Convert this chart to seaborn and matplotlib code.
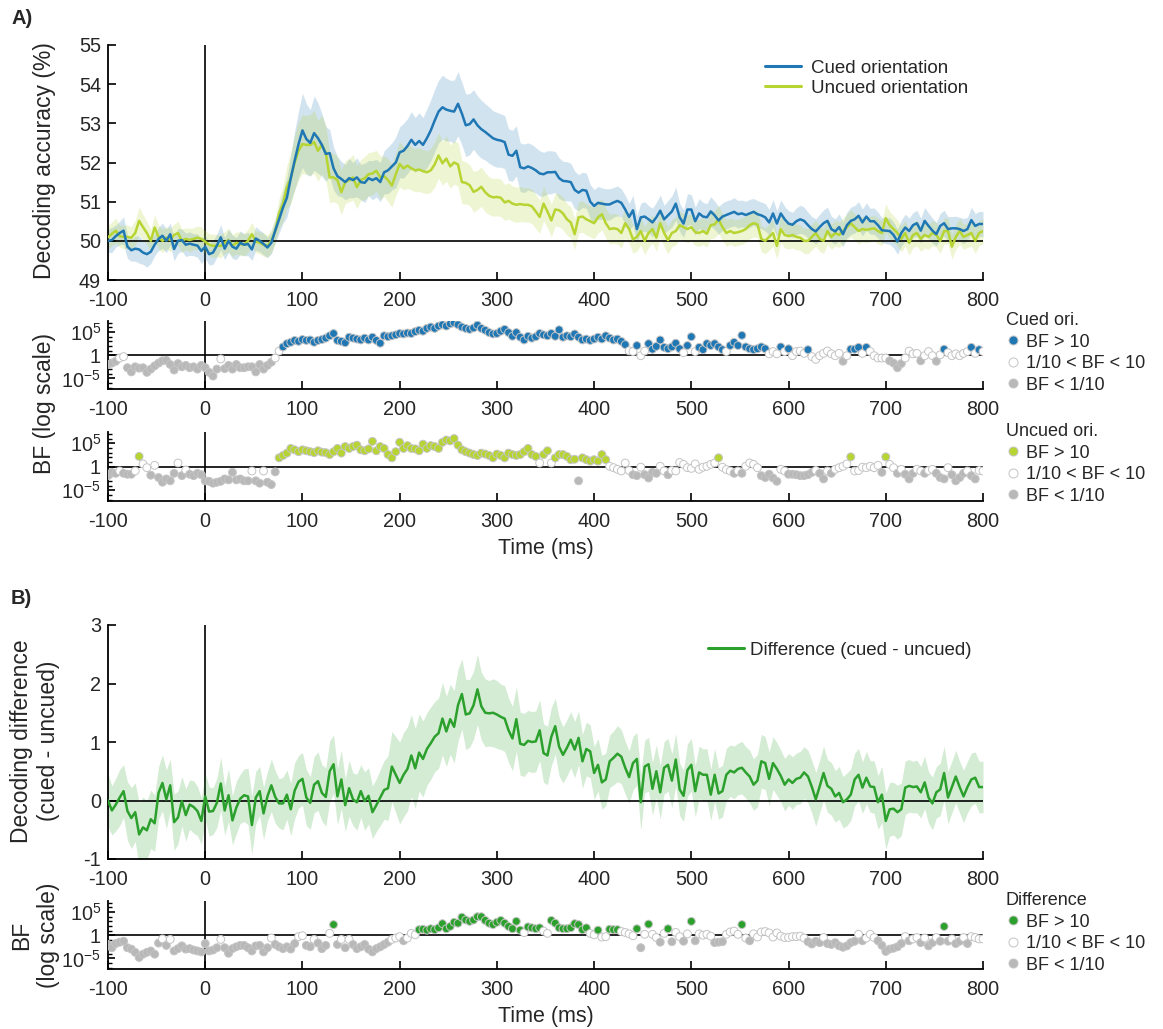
"""Decoding accuracy for cued / uncued orientation with Bayes factor strips underneath.
"""

import numpy as np
import pandas as pd
import seaborn as sns
import matplotlib.pyplot as plt
from matplotlib.lines import Line2D
from matplotlib.ticker import FixedLocator, NullFormatter

# 4 ms samples from -100 to 800 ms, one row of the lists = 100 ms
time_ms = np.arange(-100, 801, 4)

cued_acc = [
    50.00, 50.02, 50.12, 50.20, 50.26, 49.85, 49.76, 49.80, 49.78, 49.70, 49.66, 49.72, 49.90, 50.05, 50.13, 50.00, 50.17, 49.79, 50.00, 50.02, 49.90, 49.93, 49.90, 49.88, 49.74,
    49.85, 49.66, 49.70, 49.88, 50.09, 49.80, 50.00, 49.85, 49.80, 49.95, 49.90, 49.92, 49.78, 50.06, 50.00, 49.92, 49.83, 49.95, 50.26, 50.55, 50.85, 51.10, 51.60, 52.05, 52.47,
    52.82, 52.60, 52.50, 52.75, 52.62, 52.45, 52.22, 52.24, 51.85, 51.65, 51.58, 51.50, 51.60, 51.55, 51.62, 51.50, 51.48, 51.60, 51.55, 51.60, 51.50, 51.75, 51.80, 51.90, 52.00,
    52.26, 52.30, 52.42, 52.58, 52.45, 52.55, 52.45, 52.62, 52.82, 53.07, 53.30, 53.41, 53.35, 53.32, 53.30, 53.50, 53.25, 52.95, 52.98, 53.10, 52.95, 52.85, 52.78, 52.70, 52.62,
    52.58, 52.56, 52.52, 52.20, 52.17, 52.30, 51.88, 51.85, 51.90, 51.86, 51.80, 51.72, 51.70, 51.75, 51.75, 51.76, 51.60, 51.53, 51.52, 51.50, 51.30, 51.23, 51.30, 51.28, 51.00,
    50.89, 50.97, 50.95, 50.93, 50.93, 50.98, 51.02, 50.97, 50.80, 50.61, 50.78, 50.30, 50.60, 50.62, 50.55, 50.47, 50.60, 50.77, 50.55, 50.65, 50.75, 50.95, 50.60, 50.44, 50.80,
    50.80, 50.50, 50.70, 50.62, 50.60, 50.75, 50.65, 50.52, 50.62, 50.66, 50.70, 50.74, 50.68, 50.70, 50.66, 50.70, 50.74, 50.68, 50.65, 50.60, 50.47, 50.70, 50.44, 50.70, 50.55,
    50.44, 50.41, 50.50, 50.55, 50.51, 50.40, 50.30, 50.24, 50.35, 50.45, 50.51, 50.30, 50.24, 50.35, 50.17, 50.40, 50.51, 50.55, 50.64, 50.47, 50.62, 50.50, 50.50, 50.40, 50.27,
    50.26, 50.25, 50.15, 49.98, 50.20, 50.34, 50.25, 50.40, 50.45, 50.26, 50.51, 50.38, 50.26, 50.17, 50.38, 50.45, 50.30, 50.32, 50.32, 50.30, 50.25, 50.30, 50.53, 50.38, 50.43,
    50.43,
]
cued_sem = [
    0.30, 0.32, 0.28, 0.30, 0.35, 0.30, 0.28, 0.32, 0.35, 0.30, 0.33, 0.30, 0.28, 0.30, 0.32, 0.30, 0.28, 0.30, 0.32, 0.28, 0.30, 0.30, 0.28, 0.30, 0.32,
    0.30, 0.28, 0.30, 0.30, 0.32, 0.28, 0.30, 0.30, 0.28, 0.30, 0.28, 0.30, 0.28, 0.30, 0.28, 0.28, 0.26, 0.28, 0.30, 0.35, 0.40, 0.50, 0.60, 0.75, 0.85,
    0.95, 0.90, 0.85, 0.95, 0.90, 0.80, 0.70, 0.60, 0.55, 0.50, 0.45, 0.45, 0.50, 0.45, 0.50, 0.45, 0.50, 0.45, 0.50, 0.48, 0.50, 0.55, 0.60, 0.60, 0.65,
    0.65, 0.70, 0.70, 0.72, 0.70, 0.72, 0.70, 0.75, 0.78, 0.80, 0.80, 0.82, 0.80, 0.78, 0.80, 0.82, 0.80, 0.80, 0.78, 0.76, 0.75, 0.74, 0.72, 0.72, 0.70,
    0.70, 0.68, 0.68, 0.66, 0.65, 0.64, 0.62, 0.62, 0.60, 0.60, 0.58, 0.58, 0.56, 0.55, 0.55, 0.52, 0.52, 0.50, 0.50, 0.48, 0.48, 0.46, 0.45, 0.45, 0.44,
    0.42, 0.42, 0.40, 0.40, 0.40, 0.38, 0.38, 0.36, 0.36, 0.35, 0.38, 0.35, 0.36, 0.38, 0.35, 0.36, 0.38, 0.40, 0.36, 0.38, 0.40, 0.42, 0.36, 0.35, 0.40,
    0.38, 0.36, 0.38, 0.36, 0.35, 0.38, 0.36, 0.35, 0.35, 0.36, 0.35, 0.36, 0.35, 0.34, 0.35, 0.36, 0.34, 0.35, 0.34, 0.35, 0.33, 0.35, 0.33, 0.34, 0.33,
    0.33, 0.32, 0.34, 0.36, 0.35, 0.33, 0.32, 0.32, 0.33, 0.34, 0.35, 0.33, 0.32, 0.34, 0.32, 0.33, 0.35, 0.35, 0.36, 0.34, 0.35, 0.33, 0.34, 0.33, 0.32,
    0.33, 0.34, 0.33, 0.32, 0.33, 0.34, 0.33, 0.32, 0.33, 0.32, 0.34, 0.33, 0.32, 0.30, 0.32, 0.33, 0.32, 0.30, 0.31, 0.30, 0.32, 0.30, 0.33, 0.32, 0.32,
    0.32,
]
uncued_acc = [
    50.09, 50.18, 50.26, 50.12, 50.10, 50.10, 50.08, 50.20, 50.51, 50.35, 50.20, 50.00, 50.34, 50.10, 50.00, 50.08, 50.02, 50.15, 50.20, 50.00, 50.05, 50.02, 50.05, 50.08, 50.05,
    49.98, 49.90, 49.87, 49.88, 49.87, 49.95, 50.02, 49.87, 49.95, 49.92, 49.90, 50.00, 50.17, 49.98, 49.95, 49.90, 49.87, 50.00, 50.25, 50.70, 50.95, 51.37, 51.60, 52.00, 52.30,
    52.47, 52.45, 52.45, 52.52, 52.30, 52.45, 52.25, 51.62, 51.62, 51.55, 51.24, 51.50, 51.55, 51.62, 51.37, 51.55, 51.60, 51.70, 51.72, 51.79, 51.62, 51.65, 51.55, 51.41, 51.70,
    51.96, 51.85, 51.92, 51.85, 51.80, 51.82, 51.78, 51.75, 51.80, 51.95, 52.18, 51.98, 52.10, 51.90, 52.00, 51.95, 51.50, 51.48, 51.42, 51.25, 51.30, 51.38, 51.24, 51.15, 51.11,
    51.12, 51.10, 50.98, 51.02, 50.95, 50.92, 50.94, 50.92, 50.92, 50.88, 50.75, 50.61, 50.95, 50.75, 50.52, 50.80, 50.78, 50.70, 50.55, 50.47, 50.17, 50.60, 50.62, 50.55, 50.50,
    50.45, 50.60, 50.68, 50.45, 50.30, 50.32, 50.30, 50.20, 50.45, 50.30, 50.04, 50.10, 50.25, 50.00, 50.20, 50.30, 50.08, 50.45, 50.20, 50.02, 50.20, 50.25, 50.40, 50.35, 50.30,
    50.35, 50.22, 50.20, 50.25, 50.18, 50.40, 50.42, 50.55, 50.35, 50.20, 50.25, 50.20, 50.22, 50.25, 50.30, 50.40, 50.45, 50.42, 50.05, 50.00, 50.10, 50.20, 49.87, 50.30, 50.15,
    50.12, 50.15, 50.10, 50.08, 50.00, 50.00, 50.10, 50.20, 50.05, 50.00, 50.25, 50.10, 50.20, 50.15, 50.25, 50.35, 50.45, 50.35, 50.25, 50.30, 50.28, 50.30, 50.32, 50.25, 50.20,
    50.58, 50.40, 50.30, 50.20, 50.05, 50.20, 49.95, 50.15, 50.20, 50.05, 50.15, 50.10, 50.20, 50.15, 50.00, 50.25, 50.25, 49.85, 50.10, 50.25, 50.10, 50.15, 50.20, 50.00, 50.20,
    50.25,
]
uncued_sem = [
    0.30, 0.30, 0.32, 0.28, 0.30, 0.30, 0.28, 0.32, 0.35, 0.32, 0.30, 0.28, 0.32, 0.30, 0.30, 0.28, 0.30, 0.28, 0.30, 0.30, 0.28, 0.30, 0.28, 0.30, 0.30,
    0.28, 0.28, 0.30, 0.28, 0.30, 0.28, 0.30, 0.28, 0.28, 0.30, 0.28, 0.30, 0.30, 0.28, 0.28, 0.30, 0.28, 0.30, 0.32, 0.38, 0.45, 0.55, 0.65, 0.70, 0.75,
    0.75, 0.75, 0.78, 0.80, 0.78, 0.75, 0.70, 0.65, 0.62, 0.60, 0.58, 0.55, 0.55, 0.58, 0.55, 0.52, 0.55, 0.55, 0.55, 0.52, 0.55, 0.52, 0.55, 0.55, 0.55,
    0.58, 0.55, 0.58, 0.55, 0.55, 0.56, 0.55, 0.55, 0.56, 0.58, 0.58, 0.56, 0.58, 0.55, 0.55, 0.56, 0.55, 0.54, 0.52, 0.52, 0.50, 0.50, 0.50, 0.48, 0.48,
    0.48, 0.48, 0.46, 0.46, 0.45, 0.45, 0.45, 0.44, 0.44, 0.44, 0.44, 0.42, 0.44, 0.42, 0.42, 0.42, 0.42, 0.42, 0.40, 0.40, 0.40, 0.40, 0.40, 0.40, 0.40,
    0.40, 0.40, 0.40, 0.38, 0.38, 0.38, 0.38, 0.38, 0.38, 0.36, 0.36, 0.36, 0.36, 0.36, 0.36, 0.36, 0.35, 0.36, 0.35, 0.35, 0.35, 0.35, 0.35, 0.35, 0.35,
    0.35, 0.34, 0.34, 0.35, 0.34, 0.34, 0.35, 0.36, 0.34, 0.34, 0.34, 0.34, 0.33, 0.34, 0.34, 0.35, 0.35, 0.34, 0.33, 0.33, 0.34, 0.34, 0.33, 0.34, 0.33,
    0.33, 0.33, 0.33, 0.32, 0.32, 0.33, 0.33, 0.33, 0.32, 0.32, 0.33, 0.32, 0.33, 0.32, 0.33, 0.34, 0.35, 0.34, 0.33, 0.33, 0.33, 0.33, 0.33, 0.33, 0.32,
    0.36, 0.35, 0.34, 0.33, 0.33, 0.33, 0.32, 0.32, 0.33, 0.32, 0.33, 0.32, 0.32, 0.32, 0.32, 0.33, 0.33, 0.32, 0.32, 0.33, 0.32, 0.32, 0.33, 0.32, 0.32,
    0.32,
]
diff_acc = [
    0.00, -0.17, -0.07, 0.05, 0.16, -0.18, -0.30, -0.20, -0.58, -0.46, -0.51, -0.32, -0.39, 0.13, 0.30, 0.02, 0.26, -0.37, -0.29, -0.01, -0.25, -0.07, -0.11, -0.18, -0.35,
    0.07, -0.19, -0.18, -0.04, 0.29, -0.17, 0.09, -0.34, -0.12, 0.03, 0.09, 0.07, -0.42, 0.05, 0.16, -0.22, 0.07, 0.26, 0.06, -0.05, -0.05, 0.10, -0.15, 0.17, 0.32,
    0.37, 0.05, -0.04, 0.27, 0.33, 0.13, 0.06, 0.50, 0.62, 0.07, 0.36, -0.08, 0.21, 0.02, -0.03, 0.16, -0.01, 0.08, -0.20, -0.08, 0.05, 0.18, 0.21, 0.58, 0.44,
    0.30, 0.44, 0.54, 0.77, 0.55, 0.82, 0.71, 0.88, 0.98, 1.09, 1.15, 1.40, 1.18, 1.39, 1.26, 1.63, 1.82, 1.47, 1.49, 1.63, 1.90, 1.61, 1.50, 1.49, 1.50,
    1.47, 1.43, 1.40, 1.20, 1.06, 1.39, 0.97, 0.95, 1.02, 1.00, 1.01, 1.20, 0.81, 0.77, 1.09, 1.27, 0.92, 0.78, 0.90, 1.04, 0.87, 1.07, 0.67, 0.88, 0.84,
    0.47, 0.61, 0.31, 0.36, 0.67, 0.73, 0.80, 0.75, 0.56, 0.40, 0.64, 0.71, -0.03, 0.58, 0.62, 0.20, 0.50, 0.14, 0.56, 0.61, 0.34, 0.70, 0.19, 0.08, 0.52,
    0.61, 0.16, 0.48, 0.44, 0.44, 0.10, 0.44, 0.12, 0.16, 0.44, 0.51, 0.48, 0.54, 0.56, 0.48, 0.41, 0.27, 0.34, 0.67, 0.64, 0.37, 0.64, 0.54, 0.42, 0.27,
    0.36, 0.30, 0.37, 0.39, 0.48, 0.41, 0.23, 0.02, 0.24, 0.47, 0.25, 0.20, 0.07, 0.13, -0.03, 0.02, 0.10, 0.36, 0.44, 0.22, 0.39, 0.24, 0.23, -0.03, 0.10,
    -0.35, -0.15, -0.14, -0.20, -0.15, 0.22, 0.25, 0.23, 0.24, 0.14, 0.31, 0.05, -0.05, 0.14, 0.19, 0.47, 0.05, 0.23, 0.41, 0.23, 0.07, 0.23, 0.36, 0.39, 0.23,
    0.23,
]
diff_sem = [
    0.45, 0.42, 0.45, 0.48, 0.45, 0.50, 0.52, 0.50, 0.55, 0.52, 0.50, 0.50, 0.48, 0.45, 0.48, 0.50, 0.45, 0.48, 0.45, 0.42, 0.45, 0.42, 0.45, 0.42, 0.40,
    0.40, 0.42, 0.40, 0.42, 0.45, 0.42, 0.45, 0.42, 0.45, 0.42, 0.45, 0.48, 0.50, 0.45, 0.42, 0.45, 0.42, 0.45, 0.45, 0.42, 0.45, 0.42, 0.45, 0.48, 0.45,
    0.45, 0.48, 0.45, 0.48, 0.50, 0.48, 0.50, 0.52, 0.50, 0.48, 0.50, 0.45, 0.48, 0.45, 0.48, 0.45, 0.50, 0.48, 0.45, 0.45, 0.48, 0.50, 0.55, 0.60, 0.65,
    0.70, 0.72, 0.72, 0.70, 0.68, 0.66, 0.65, 0.62, 0.62, 0.60, 0.60, 0.62, 0.60, 0.60, 0.62, 0.62, 0.60, 0.60, 0.58, 0.58, 0.60, 0.58, 0.58, 0.56, 0.58,
    0.58, 0.56, 0.56, 0.55, 0.55, 0.55, 0.54, 0.54, 0.52, 0.52, 0.52, 0.52, 0.50, 0.50, 0.50, 0.48, 0.50, 0.48, 0.48, 0.48, 0.48, 0.46, 0.46, 0.46, 0.45,
    0.45, 0.45, 0.46, 0.45, 0.45, 0.46, 0.48, 0.46, 0.45, 0.45, 0.46, 0.45, 0.48, 0.45, 0.46, 0.45, 0.45, 0.46, 0.45, 0.45, 0.46, 0.45, 0.45, 0.44, 0.45,
    0.45, 0.44, 0.45, 0.44, 0.45, 0.44, 0.45, 0.44, 0.44, 0.45, 0.44, 0.45, 0.44, 0.45, 0.44, 0.45, 0.44, 0.45, 0.46, 0.45, 0.46, 0.45, 0.45, 0.44, 0.45,
    0.44, 0.45, 0.44, 0.45, 0.44, 0.45, 0.45, 0.46, 0.45, 0.46, 0.45, 0.45, 0.44, 0.45, 0.44, 0.45, 0.44, 0.45, 0.45, 0.44, 0.45, 0.44, 0.45, 0.46, 0.48,
    0.48, 0.46, 0.45, 0.46, 0.45, 0.46, 0.45, 0.44, 0.45, 0.44, 0.45, 0.44, 0.45, 0.44, 0.45, 0.46, 0.45, 0.44, 0.45, 0.44, 0.45, 0.44, 0.45, 0.44, 0.44,
    0.44,
]

# log10 Bayes factors
cued_logbf = [
    -2.0, -1.7, -1.3, -0.6, -0.3, -2.7, -3.6, -2.5, -2.8, -2.7, -3.7, -3.0, -2.3, -1.7, -1.2, -1.1, -2.0, -3.2, -1.8, -2.5, -2.2, -2.7, -2.5, -3.0, -2.2,
    -2.7, -3.7, -4.5, -3.0, -0.8, -2.9, -2.2, -3.0, -2.0, -2.7, -2.7, -2.5, -2.5, -3.6, -2.0, -3.0, -2.2, -1.5, -0.6, 0.9, 1.8, 2.5, 2.8, 3.2, 3.0,
    3.4, 3.2, 3.3, 2.8, 3.2, 3.4, 3.7, 4.2, 4.7, 3.2, 3.0, 2.7, 3.9, 3.7, 3.5, 3.3, 3.7, 3.3, 3.9, 3.2, 2.6, 4.2, 4.0, 4.2, 4.4,
    4.7, 4.6, 4.8, 4.7, 5.1, 5.4, 5.2, 5.8, 6.1, 5.8, 6.3, 6.6, 6.3, 6.8, 7.0, 6.6, 6.1, 5.8, 5.6, 5.9, 6.5, 5.8, 5.4, 4.9, 4.6,
    4.7, 5.2, 5.6, 4.9, 4.1, 4.9, 3.9, 3.3, 4.1, 3.7, 4.0, 4.7, 4.4, 4.2, 4.7, 4.1, 5.5, 3.9, 4.2, 4.0, 4.6, 3.9, 3.3, 3.5, 3.2,
    3.5, 3.9, 3.5, 4.2, 3.7, 3.3, 3.5, 3.0, 2.3, 0.95, 0.8, 2.1, -0.1, 0.9, 2.5, 1.3, 1.9, 3.3, 1.7, 1.4, 1.8, 2.6, 1.4, 0.55, 2.1,
    4.0, 0.8, 1.7, 1.2, 2.5, 2.1, 2.5, 1.8, 1.2, 0.8, 2.1, 2.8, 2.1, 4.3, 1.8, 1.4, 1.2, 1.4, 1.8, 1.4, 0.3, 0.8, 0.3, 1.8, 0.8,
    1.4, -0.1, 0.8, 0.9, 0.4, 1.2, -0.3, -0.9, -0.1, 0.4, 0.9, 0.3, -0.1, 0.4, -1.3, -0.1, 1.3, 1.3, 1.7, 0.4, 1.7, 0.8, -0.1, -0.6, -0.6,
    -0.6, -1.2, -1.7, -2.7, -1.8, -0.6, 0.9, 0.3, 0.4, -1.2, -0.1, 0.8, -0.1, -1.3, 0.1, 1.3, 0.55, -0.1, 0.3, -0.1, 0.4, 0.8, 1.7, 0.4, 1.2,
    0.8,
]
uncued_logbf = [
    -1.9, -1.2, -1.4, -0.9, -1.4, -1.6, -1.6, -0.9, 2.2, 0.6, -0.2, -1.8, 0.3, -2.3, -3.3, -2.6, -3.0, -1.4, 0.8, -1.9, -0.7, -1.6, -1.9, -1.4, -1.7,
    -3.0, -3.1, -3.5, -3.3, -3.1, -2.6, -2.8, -1.2, -2.8, -2.6, -3.0, -3.0, -0.9, -3.0, -3.5, -0.9, -3.3, -3.8, -1.1, 1.9, 2.4, 2.9, 3.9, 3.6, 3.2,
    3.6, 3.4, 3.2, 3.0, 3.4, 3.1, 3.0, 2.6, 3.2, 3.9, 2.9, 4.3, 3.9, 4.3, 4.6, 3.6, 3.4, 3.8, 5.4, 3.4, 4.3, 3.9, 2.6, 1.9, 3.2,
    5.2, 3.9, 4.5, 3.9, 3.8, 3.4, 4.8, 3.9, 4.5, 4.3, 3.9, 5.2, 5.7, 5.5, 6.0, 4.6, 3.6, 3.2, 2.9, 2.6, 2.4, 2.9, 2.7, 2.4, 1.9,
    2.7, 2.4, 1.9, 2.9, 2.6, 2.4, 2.6, 3.2, 3.9, 2.6, 2.2, 0.8, 2.6, 3.4, 0.8, 1.9, 2.6, 2.6, 2.2, 1.5, 1.6, -3.0, 1.9, 1.5, 1.2,
    1.5, 1.2, 2.6, 1.5, 0.1, -0.2, -0.55, -0.9, 0.8, -0.8, -1.7, -1.9, -0.1, -1.7, -2.4, -1.2, -1.4, 0.1, -0.9, -1.7, -0.8, -0.9, 0.9, 0.5, -0.2,
    -0.35, 0.6, -0.55, -0.1, 0.1, 0.5, 0.8, 1.9, -0.1, -0.6, -0.9, -1.4, -0.9, -1.4, 0.1, 0.8, 0.5, -0.2, -1.9, -2.3, -1.6, -2.4, -3.1, -0.55, -0.9,
    -1.6, -1.6, -1.7, -1.9, -1.9, -1.7, -1.2, -0.8, -1.4, -2.6, -0.9, -1.4, -0.55, -0.2, 0.1, 0.6, 2.1, -0.9, -0.8, -0.1, -0.2, 0.1, -0.2, 0.3, -1.2,
    2.1, 0.5, -0.2, -1.4, -0.55, -1.6, -2.6, -1.4, -0.55, -0.9, -1.4, -0.8, -0.55, -1.4, -2.3, -2.6, -0.2, -1.7, -3.0, -2.3, -1.4, -0.9, -1.9, -2.6, -0.8,
    -0.9,
]
diff_logbf = [
    -2.0, -2.7, -1.8, -1.5, -1.3, -2.7, -3.0, -3.7, -4.8, -4.1, -3.7, -3.4, -4.1, -1.7, -0.8, -2.2, -0.9, -3.4, -2.9, -2.3, -3.0, -2.9, -3.2, -3.4, -3.6,
    -1.8, -3.4, -3.2, -2.7, -0.9, -2.7, -3.9, -2.9, -2.5, -2.2, -2.2, -2.7, -3.4, -2.3, -2.2, -3.6, -2.7, -0.6, -2.0, -2.5, -2.9, -2.5, -3.0, -1.8, -0.3,
    -0.1, -2.2, -2.5, -0.9, -1.7, -2.9, -2.2, 0.4, 2.3, -2.0, -0.9, -2.7, -0.9, -2.0, -2.9, -2.5, -2.0, -3.0, -3.6, -2.9, -2.5, -2.0, -1.5, -0.9, -0.6,
    -0.3, -1.2, -0.6, 0.4, 0.1, 1.2, 1.3, 1.1, 1.4, 1.2, 1.6, 2.5, 1.4, 1.9, 2.8, 2.6, 3.9, 3.3, 3.0, 3.3, 4.0, 4.0, 3.2, 2.6, 2.3,
    2.8, 3.2, 2.6, 1.9, 1.4, 3.0, 1.1, 0.55, 1.8, 1.6, 1.4, 1.6, 0.9, 0.4, 3.2, 2.6, 1.6, 1.4, 1.4, 1.6, 2.5, 2.3, 1.2, 1.6, 0.4,
    0.1, 1.1, -0.4, -0.3, 1.3, 1.2, 1.2, 0.8, 0.6, 0.3, -0.1, 1.4, -2.7, 0.2, 2.4, 0.2, -0.5, -1.5, 0.4, 1.4, -1.4, 0.6, -0.3, -1.3, 0.3,
    3.0, -1.2, 0.3, 0.0, 0.2, -0.2, -1.6, -1.5, -1.4, 0.2, 0.7, 0.9, 0.2, 2.3, -0.6, -1.2, 0.3, -0.4, 0.7, 0.8, 0.5, -0.4, 0.5, -0.2, -0.5,
    -0.5, -0.3, -0.3, -0.2, -0.6, -1.4, -1.9, -1.3, -1.6, -0.5, -1.8, -2.0, -1.6, -2.3, -2.6, -2.3, -1.6, -1.3, 0.2, -1.2, -0.6, 0.2, -0.5, -1.2, -2.2,
    -3.5, -3.0, -2.8, -2.5, -1.8, -0.3, -1.2, -0.8, -0.5, -1.6, -0.6, -2.3, -1.6, -0.5, -1.3, 1.9, -1.3, -0.8, -1.8, -1.3, -0.5, -1.8, -0.3, -0.5, -0.8,
    -0.8,
]

xticks = list(range(-100, 801, 100))
bf_labels = ["BF > 10", "1/10 < BF < 10", "BF < 1/10"]

BLUE = "#1f77b4"
LIME = "#b6d432"
GREEN = "#2ca02c"
GREY = "#b8b8b8"
EDGE = "#c4c4c4"

sns.set_theme(style="white", rc={
    "axes.unicode_minus": False,
    "mathtext.fontset": "custom",
    "mathtext.rm": "Liberation Sans",
    "xtick.direction": "in",
    "ytick.direction": "in",
})
plt.rcParams["font.family"] = ["Liberation Sans", "DejaVu Sans"]

W, H = 1163, 1029


def px_axes(fig, left, top, right, bottom):
    return fig.add_axes([left / W, 1 - bottom / H, (right - left) / W, (bottom - top) / H])


def style_axes(ax):
    for side in ["top", "right"]:
        ax.spines[side].set_visible(False)
    for side in ["left", "bottom"]:
        ax.spines[side].set_color("black")
        ax.spines[side].set_linewidth(1.3)
    ax.set_xlim(-100, 800)
    ax.set_xticks(xticks)
    ax.tick_params(axis="both", which="major", length=6, width=1.2, color="black",
                   labelsize=14.3, pad=5, bottom=True, left=True)
    ax.tick_params(axis="x", which="major", pad=8)
    ax.axvline(0, color="black", lw=1.2, zorder=1)


def draw_band(ax, mean, sem, color, alpha):
    mean = np.asarray(mean)
    sem = np.asarray(sem)
    ax.fill_between(time_ms, mean - sem, mean + sem, color=color, alpha=alpha, lw=0, zorder=1)


def draw_bf(ax, logbf, color, title):
    logbf = np.asarray(logbf)
    df = pd.DataFrame({"time": time_ms, "bf": 10.0 ** logbf})
    df["cat"] = np.select([logbf > 1, logbf < -1], [bf_labels[0], bf_labels[2]], bf_labels[1])
    style_axes(ax)
    ax.axhline(1, color="black", lw=1.2, zorder=1)
    sns.scatterplot(data=df, x="time", y="bf", hue="cat", hue_order=bf_labels,
                    palette={bf_labels[0]: color, bf_labels[1]: "white", bf_labels[2]: GREY},
                    s=32, edgecolor=EDGE, linewidth=0.7, legend=False, ax=ax, zorder=3)
    ax.set_yscale("log")
    ax.set_ylim(10 ** -7.3, 10 ** 7.4)
    ax.yaxis.set_major_locator(FixedLocator([1e-5, 1, 1e5]))
    ax.set_yticklabels([r"$\mathregular{10^{-5}}$", "1", r"$\mathregular{10^{5}}$"])
    ax.yaxis.set_minor_locator(FixedLocator([10.0 ** k for k in range(-7, 8) if k not in (-5, 0, 5)]))
    ax.yaxis.set_minor_formatter(NullFormatter())
    ax.tick_params(axis="y", which="major", length=5)
    ax.tick_params(axis="y", which="minor", direction="in", length=3, width=1.0, color="black", left=True)
    ax.set_xlabel("")
    ax.set_ylabel("")
    handles = [
        Line2D([], [], ls="", marker="o", markersize=6.5, markerfacecolor=color, markeredgecolor=EDGE, markeredgewidth=0.7),
        Line2D([], [], ls="", marker="o", markersize=6.5, markerfacecolor="white", markeredgecolor=EDGE, markeredgewidth=0.7),
        Line2D([], [], ls="", marker="o", markersize=6.5, markerfacecolor=GREY, markeredgecolor=EDGE, markeredgewidth=0.7),
    ]
    ax.legend(handles=handles, labels=bf_labels, title=title, loc="upper left",
              bbox_to_anchor=(1.026, 1.13), frameon=False, fontsize=13, title_fontsize=13,
              borderpad=0, borderaxespad=0, handlelength=0.8, handletextpad=0.3,
              labelspacing=0.25, alignment="left")


fig = plt.figure(figsize=(W / 100, H / 100), dpi=100)

# ---- panel A: decoding accuracy
ax_a = px_axes(fig, 108, 45, 983, 280)
style_axes(ax_a)
draw_band(ax_a, cued_acc, cued_sem, BLUE, 0.2)
draw_band(ax_a, uncued_acc, uncued_sem, LIME, 0.22)
ax_a.axhline(50, color="black", lw=1.2, zorder=2)
sns.lineplot(x=time_ms, y=uncued_acc, ax=ax_a, color=LIME, lw=1.8, zorder=3)
sns.lineplot(x=time_ms, y=cued_acc, ax=ax_a, color=BLUE, lw=1.8, zorder=4)
ax_a.set_ylim(49, 55)
ax_a.set_yticks(range(49, 56))
ax_a.legend(handles=[Line2D([], [], color=BLUE, lw=2.2), Line2D([], [], color=LIME, lw=2.2)],
            labels=["Cued orientation", "Uncued orientation"], loc="upper left",
            bbox_to_anchor=(0.751, 0.937), frameon=False, fontsize=13.5, borderpad=0,
            borderaxespad=0, handlelength=1.9, handletextpad=0.55, labelspacing=0.15)

ax_bc = px_axes(fig, 108, 321, 983, 389)
draw_bf(ax_bc, cued_logbf, BLUE, "Cued ori.")
ax_bu = px_axes(fig, 108, 432, 983, 501)
draw_bf(ax_bu, uncued_logbf, LIME, "Uncued ori.")
ax_bu.set_xlabel("Time (ms)", fontsize=15.5, labelpad=5)

# ---- panel B: difference
ax_b = px_axes(fig, 108, 625, 983, 859)
style_axes(ax_b)
draw_band(ax_b, diff_acc, diff_sem, GREEN, 0.2)
ax_b.axhline(0, color="black", lw=1.2, zorder=2)
sns.lineplot(x=time_ms, y=diff_acc, ax=ax_b, color=GREEN, lw=1.8, zorder=3)
ax_b.set_ylim(-1, 3)
ax_b.set_yticks(range(-1, 4))
ax_b.legend(handles=[Line2D([], [], color=GREEN, lw=2.2)], labels=["Difference (cued - uncued)"],
            loc="upper left", bbox_to_anchor=(0.686, 0.93), frameon=False, fontsize=13.5,
            borderpad=0, borderaxespad=0, handlelength=1.9, handletextpad=0.3)

ax_bd = px_axes(fig, 108, 901, 983, 969)
draw_bf(ax_bd, diff_logbf, GREEN, "Difference")
ax_bd.set_xlabel("Time (ms)", fontsize=15.5, labelpad=5)

# ---- labels
fig.text(11 / W, 1 - 19 / H, "A)", fontsize=14.5, fontweight="bold", va="center")
fig.text(11 / W, 1 - 599 / H, "B)", fontsize=14.5, fontweight="bold", va="center")
fig.text(45 / W, 1 - 161 / H, "Decoding accuracy (%)", rotation=90, fontsize=16.5, ha="center", va="center")
fig.text(45 / W, 1 - 404 / H, "BF (log scale)", rotation=90, fontsize=16.5, ha="center", va="center")
fig.text(35 / W, 1 - 741 / H, "Decoding difference\n(cued - uncued)", rotation=90, fontsize=16.5,
         ha="center", va="center", multialignment="center", linespacing=1.25)
fig.text(35 / W, 1 - 935 / H, "BF\n(log scale)", rotation=90, fontsize=16.5,
         ha="center", va="center", multialignment="center", linespacing=1.25)

fig.savefig("out.png", dpi=100)
